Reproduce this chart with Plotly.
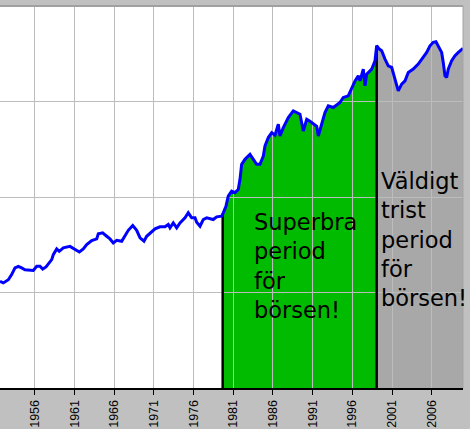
import numpy as np
import plotly.graph_objects as go

# ---------------- data ----------------
years = [1951.59, 1952.01, 1952.64, 1953.06, 1953.48, 1953.90, 1954.32, 1954.74, 1955.79, 1956.22,
         1956.63, 1956.97, 1957.39, 1957.80, 1958.11, 1958.31, 1958.74, 1959.06, 1959.57, 1960.41,
         1961.04, 1961.59, 1962.09, 1962.52, 1963.15, 1963.78, 1963.98, 1964.53, 1965.04, 1965.45,
         1965.87, 1966.30, 1966.93, 1967.35, 1967.76, 1968.32, 1968.82, 1969.24, 1969.74, 1970.08,
         1970.50, 1971.13, 1971.76, 1972.39, 1972.80, 1973.02, 1973.43, 1973.86, 1974.28, 1974.91,
         1975.32, 1975.75, 1976.17, 1976.38, 1976.80, 1977.21, 1977.64, 1978.06, 1978.47, 1978.90,
         1979.53, 1979.73, 1980.07, 1980.36, 1980.79, 1981.21, 1981.62, 1981.84, 1982.05, 1982.47,
         1983.10, 1983.52, 1983.94, 1984.36, 1984.78, 1984.99, 1985.41, 1985.84, 1986.25, 1986.67,
         1986.88, 1987.30, 1987.93, 1988.56, 1988.99, 1989.40, 1989.82, 1990.25, 1990.66, 1991.08,
         1991.51, 1991.71, 1992.14, 1992.55, 1992.97, 1993.60, 1994.44, 1994.86, 1995.49, 1995.92,
         1996.34, 1996.75, 1996.97, 1997.38, 1997.59, 1997.81, 1998.44, 1998.86, 1999.07, 1999.40,
         1999.70, 2000.12, 2000.53, 2000.96, 2001.38, 2001.59, 2001.79, 2002.22, 2002.64, 2003.05,
         2003.68, 2004.31, 2004.94, 2005.37, 2005.79, 2006.20, 2006.54, 2006.83, 2007.26, 2007.46,
         2007.68, 2007.89, 2008.09, 2008.52, 2008.94, 2009.36, 2009.95]

index_values = [13.1, 12.6, 13.6, 15.4, 18.1, 18.8, 18.1, 17.3, 17.0, 18.8,
                18.8, 17.6, 18.5, 20.7, 22.1, 24.9, 28.6, 27.0, 29.3, 30.4,
                28.6, 26.6, 28.6, 31.7, 35.0, 36.4, 41.1, 42.1, 38.8, 36.4,
                33.1, 35.2, 34.4, 38.8, 44.8, 50.2, 44.8, 37.3, 34.4, 38.8,
                42.1, 46.4, 48.7, 48.7, 51.5, 47.5, 53.6, 47.5, 53.6, 60.5,
                68.3, 60.5, 60.5, 54.4, 49.4, 58.1, 60.5, 59.1, 58.1, 62.0,
                62.9, 68.3, 80.1, 102, 115, 111, 120, 153, 220, 248,
                280, 248, 220, 220, 268, 342, 419, 472, 443, 578,
                435, 533, 679, 796, 766, 735, 491, 652, 621, 578,
                550, 435, 578, 766, 899, 865, 976, 1101, 1145, 1403,
                1645, 1857, 1645, 2183, 1458, 1934, 2183, 2669, 3835, 3540,
                3398, 2780, 2364, 2275, 1714, 1458, 1292, 1519, 1645, 2016,
                2183, 2464, 2897, 3268, 3835, 4164, 4225, 3835, 3268, 2567,
                1857, 1786, 2183, 2669, 3011, 3268, 3601]

tick_years = [1956, 1961, 1966, 1971, 1976, 1981, 1986, 1991, 1996, 2001, 2006]
tick_labels = [str(y) for y in tick_years]
grid_values = [10, 100, 1000]

good_period = (1979.66, 1999.07)
bad_period = (1999.07, 2009.95)

label_good = "Superbra<br>period<br>för<br>börsen!"
label_bad = "Väldigt<br>trist<br>period<br>för<br>börsen!"

# ---------------- helpers ----------------
X_RANGE = [1951.59, 2009.95]
Y_RANGE_LOG = [0, 4]
BASE = 10 ** (Y_RANGE_LOG[0] - 0.5)
log_vals = np.log10(index_values)


def value_at(t):
    return float(10 ** np.interp(t, years, log_vals))


def area(t0, t1):
    xs = [t0] + [x for x in years if t0 < x < t1] + [t1]
    ys = [value_at(x) for x in xs]
    return xs + [t1, t0], ys + [BASE, BASE]


GREEN = "#00bb00"
GREYFILL = "#a8a8a8"
BG = "#c0c0c0"
GRID = "#bcbcbc"

fig = go.Figure()

# fills on the lower subplot (x/y)
gx, gy = area(*good_period)
fig.add_trace(go.Scatter(x=gx, y=gy, mode="lines", fill="toself", fillcolor=GREEN,
                         line=dict(width=0), xaxis="x", yaxis="y", hoverinfo="skip"))
bx, by = area(*bad_period)
fig.add_trace(go.Scatter(x=bx, y=by, mode="lines", fill="toself", fillcolor=GREYFILL,
                         line=dict(width=0), xaxis="x", yaxis="y", hoverinfo="skip"))

# upper subplot (x2/y2): grid, boundary lines, index line
for t in (good_period[0], good_period[1]):
    fig.add_trace(go.Scatter(x=[t, t], y=[BASE, value_at(t)], mode="lines",
                             line=dict(color="black", width=2.5), xaxis="x2", yaxis="y2",
                             hoverinfo="skip"))

fig.add_trace(go.Scatter(x=years, y=index_values, mode="lines",
                         line=dict(color="#0000ff", width=3), xaxis="x2", yaxis="y2"))

W, H = 470, 429
ML, MR, MT, MB = 0, 7, 6, 41
pw = W - ML - MR
ph = H - MT - MB

fig.update_layout(
    width=W, height=H,
    margin=dict(l=ML, r=MR, t=MT, b=MB, pad=0),
    paper_bgcolor=BG,
    plot_bgcolor="rgba(0,0,0,0)",
    showlegend=False,
    font=dict(family="Liberation Sans", size=12, color="black"),
    xaxis=dict(domain=[0, 1], range=X_RANGE, visible=False, anchor="y"),
    yaxis=dict(domain=[0, 1], type="log", range=Y_RANGE_LOG, visible=False, anchor="x"),
    xaxis2=dict(domain=[0, 1], range=X_RANGE, anchor="y2",
                tickmode="array", tickvals=tick_years, ticktext=tick_labels,
                tickangle=-90, ticks="outside", ticklen=5, tickwidth=1, tickcolor="black",
                tickfont=dict(family="Liberation Sans", size=12.5, color="black"),
                automargin=False,
                showgrid=True, gridcolor=GRID, gridwidth=1,
                showline=True, linecolor="black", linewidth=2, zeroline=False),
    yaxis2=dict(domain=[0, 1], type="log", range=Y_RANGE_LOG, anchor="x2",
                tickmode="array", tickvals=grid_values, showticklabels=False, ticks="",
                showgrid=True, gridcolor=GRID, gridwidth=1,
                showline=False, zeroline=False),
    shapes=[
        dict(type="rect", xref="paper", yref="paper", x0=0, x1=1, y0=0, y1=1,
             fillcolor="white", line=dict(width=0), layer="below"),
        dict(type="line", xref="paper", yref="paper", x0=0, x1=1, y0=1, y1=1,
             line=dict(color="#a0a0a0", width=2), layer="above"),
        dict(type="line", xref="paper", yref="paper", x0=1, x1=1, y0=0, y1=1,
             line=dict(color="#a4a4a4", width=1), layer="above"),
    ],
    annotations=[
        dict(text=label_good, xref="paper", yref="paper",
             x=252 / pw, y=1 - (207 - MT) / ph, xanchor="left", yanchor="top",
             align="left", showarrow=False,
             font=dict(family="DejaVu Sans", size=22.5, color="black")),
        dict(text=label_bad, xref="paper", yref="paper",
             x=379 / pw, y=1 - (166 - MT) / ph, xanchor="left", yanchor="top",
             align="left", showarrow=False,
             font=dict(family="DejaVu Sans", size=22.5, color="black")),
    ],
)

fig.write_html("out.html", config={"displayModeBar": False},
               post_script="document.body.style.margin='0px';document.body.style.padding='0px';")
